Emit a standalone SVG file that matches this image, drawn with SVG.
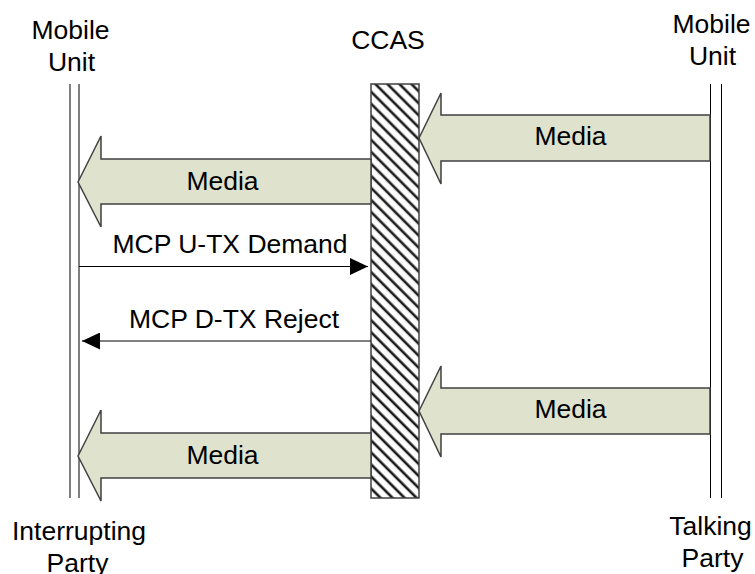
<svg xmlns="http://www.w3.org/2000/svg" width="755" height="574" viewBox="0 0 755 574">
  <style>
    text { font-family: "Liberation Sans", Arial, sans-serif; font-size: 26.5px; fill: #000; }
    .life { stroke: #000; stroke-width: 1; fill: none; }
    .media { fill: #dfe2cd; stroke: #404040; stroke-width: 1.5; stroke-linejoin: miter; }
    .msg { stroke: #000; stroke-width: 1; fill: none; }
  </style>
  <defs>
    <pattern id="hatch" patternUnits="userSpaceOnUse" width="8.5" height="8.5" patternTransform="rotate(-45)">
      <rect x="0" y="0" width="8.5" height="8.5" fill="#fff"/>
      <line x1="2" y1="0" x2="2" y2="8.5" stroke="#1a1a1a" stroke-width="2.6"/>
    </pattern>
    <marker id="arr" markerWidth="18" markerHeight="17" refX="18" refY="8.5" orient="auto" markerUnits="userSpaceOnUse">
      <path d="M0,0 L18,8.5 L0,17 Z" fill="#000"/>
    </marker>
  </defs>

  <g id="mobile-left">
    <text x="70.5" y="39" text-anchor="middle">Mobile</text>
    <text x="71.5" y="71" text-anchor="middle">Unit</text>
    <line class="life" x1="70" y1="84" x2="70" y2="498"/>
    <line class="life" x1="79" y1="84" x2="79" y2="498"/>
    <text x="79" y="540" text-anchor="middle">Interrupting</text>
    <text x="77.5" y="571.5" text-anchor="middle">Party</text>
  </g>

  <g id="ccas">
    <text x="388" y="49" text-anchor="middle">CCAS</text>
    <rect x="371" y="84" width="48" height="414" fill="url(#hatch)" stroke="#404040" stroke-width="1.5"/>
  </g>

  <g id="mobile-right">
    <text x="711.5" y="33" text-anchor="middle">Mobile</text>
    <text x="712.5" y="65" text-anchor="middle">Unit</text>
    <line class="life" x1="710.5" y1="84" x2="710.5" y2="498"/>
    <line class="life" x1="721.5" y1="84" x2="721.5" y2="498"/>
    <text x="710.5" y="535" text-anchor="middle">Talking</text>
    <text x="712.5" y="567" text-anchor="middle">Party</text>
  </g>

  <g id="connectors">
    <g id="media-1-right">
      <polygon class="media" points="419,138 441,93 441,115 710,115 710,161 441,161 441,184"/>
      <text x="570.5" y="145" text-anchor="middle">Media</text>
    </g>
    <g id="media-1-left">
      <polygon class="media" points="78,182 101,136 101,159 371,159 371,204 101,204 101,227"/>
      <text x="222.5" y="190" text-anchor="middle">Media</text>
    </g>
    <g id="mcp-demand">
      <line class="msg" x1="79" y1="266.5" x2="368" y2="266.5" marker-end="url(#arr)"/>
      <text x="230" y="253" text-anchor="middle">MCP U-TX Demand</text>
    </g>
    <g id="mcp-reject">
      <line class="msg" x1="371" y1="341" x2="82" y2="341" marker-end="url(#arr)"/>
      <text x="234" y="328" text-anchor="middle">MCP D-TX Reject</text>
    </g>
    <g id="media-2-right">
      <polygon class="media" points="419,411 441,366 441,388 710,388 710,434 441,434 441,457"/>
      <text x="570.5" y="418" text-anchor="middle">Media</text>
    </g>
    <g id="media-2-left">
      <polygon class="media" points="78,456 101,410 101,433 371,433 371,478 101,478 101,501"/>
      <text x="222.5" y="464" text-anchor="middle">Media</text>
    </g>
  </g>
</svg>
